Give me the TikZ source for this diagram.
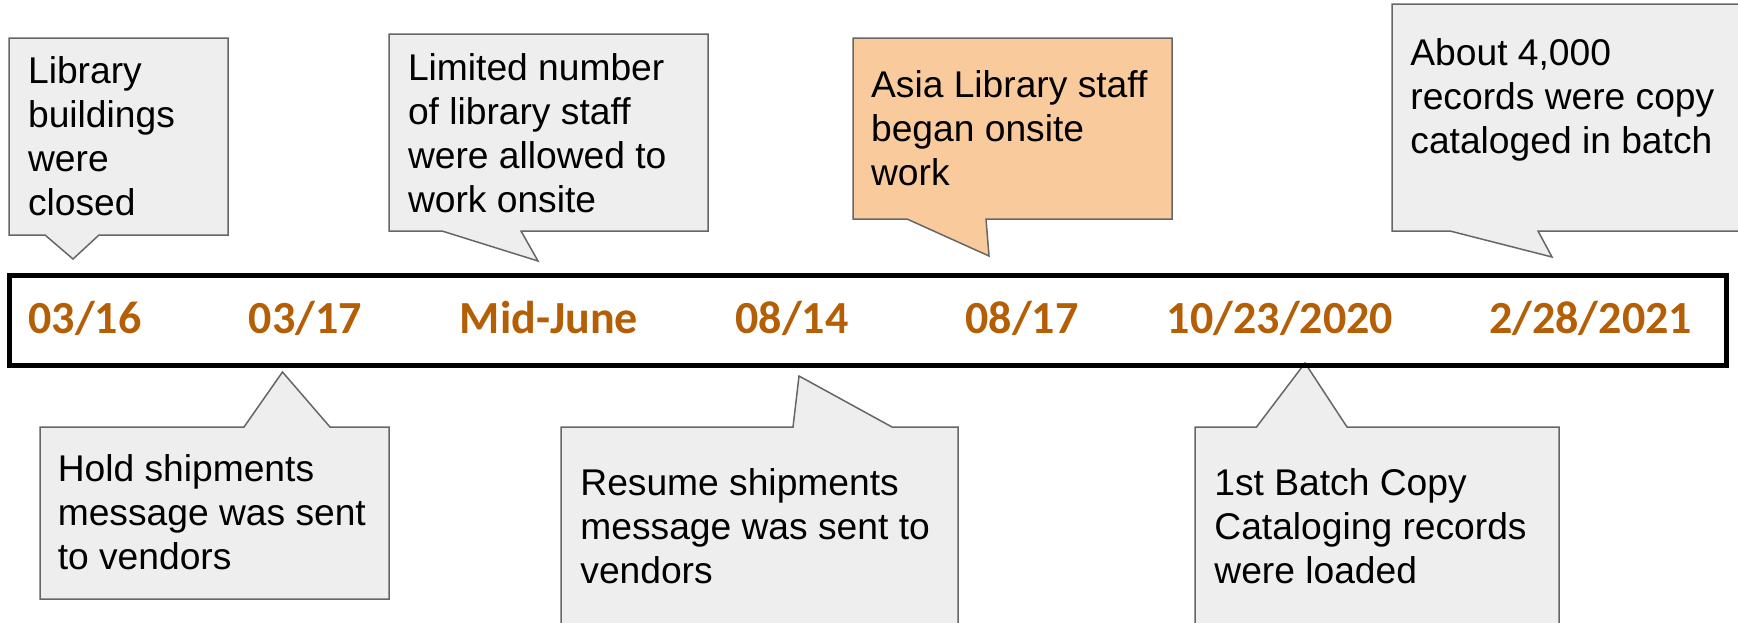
\documentclass[tikz,border=0pt]{standalone}
\usepackage{fontspec}
\setmainfont{Liberation Sans}
\newfontfamily\datefont{Carlito}
\definecolor{dateorange}{HTML}{B45F06}
\definecolor{calloutgray}{HTML}{EEEEEE}
\definecolor{calloutline}{HTML}{666666}
\definecolor{peach}{HTML}{F9CB9C}
\begin{document}
\begin{tikzpicture}[x=0.5pt,y=-0.5pt,
  callout/.style={draw=calloutline, fill=calloutgray, line width=0.75pt, line join=miter},
  hotcallout/.style={callout, fill=peach},
  note/.style={anchor=base west, inner sep=0pt, align=left, font=\fontsize{18.6}{22}\selectfont},
  datelabel/.style={anchor=base, inner sep=0pt, text=dateorange, font=\datefont\bfseries\fontsize{23}{28}\selectfont},
  timebar/.style={draw=black, line width=2.5pt}]
\useasboundingbox (0,0) rectangle (1738,622);
\clip (0,0) rectangle (1738,622);

% callouts above the timeline (tails down)
\draw[callout] (9,38) -- (228,38) -- (228,235) -- (99,235) -- (73,259) -- (45,235) -- (9,235) -- cycle;
\draw[callout] (389,34) -- (708,34) -- (708,231) -- (521,231) -- (538,261) -- (442,231) -- (389,231) -- cycle;
\draw[hotcallout] (853,38) -- (1172,38) -- (1172,219) -- (986,219) -- (989,256) -- (907,219) -- (853,219) -- cycle;
\draw[callout] (1392,4) -- (1745,4) -- (1745,231) -- (1538,231) -- (1552,257) -- (1450,231) -- (1392,231) -- cycle;

% callouts below the timeline (tails up)
\draw[callout] (40,427) -- (244,427) -- (282.5,372) -- (330,427) -- (389,427) -- (389,599) -- (40,599) -- cycle;
\draw[callout] (561,427) -- (793,427) -- (799,376) -- (892,427) -- (958,427) -- (958,640) -- (561,640) -- cycle;
\draw[callout] (1195,427) -- (1256.5,427) -- (1305,363) -- (1347,427) -- (1559,427) -- (1559,640) -- (1195,640) -- cycle;

% callout texts (anchored at the baseline of their last line)
\node[note] (t1) at (27.7,215) {Library\\buildings\\were\\closed};
\node[note] (t2) at (57.4,569.7) {Hold shipments\\message was sent\\to vendors};
\node[note] (t3) at (407.6,212) {Limited number\\of library staff\\were allowed to\\work onsite};
\node[note] (t4) at (580,583) {Resume shipments\\message was sent to\\vendors};
\node[note] (t5) at (870.7,185) {Asia Library staff\\began onsite\\work};
\node[note] (t6) at (1214,583) {1st Batch Copy\\Cataloging records\\were loaded};
\node[note] (t7) at (1410,153) {About 4,000\\records were copy\\cataloged in batch};

% timeline bar
\draw[timebar] (9.5,275) rectangle (1726.5,365);

% dates
\node[datelabel] (d1) at (85,333) {03/16};
\node[datelabel] (d2) at (305.5,333) {03/17};
\node[datelabel] (d3) at (549,333) {Mid-June};
\node[datelabel] (d4) at (792,333) {08/14};
\node[datelabel] (d5) at (1022,333) {08/17};
\node[datelabel] (d6) at (1280,333) {10/23/2020};
\node[datelabel] (d7) at (1590.5,333) {2/28/2021};
\end{tikzpicture}
\end{document}
